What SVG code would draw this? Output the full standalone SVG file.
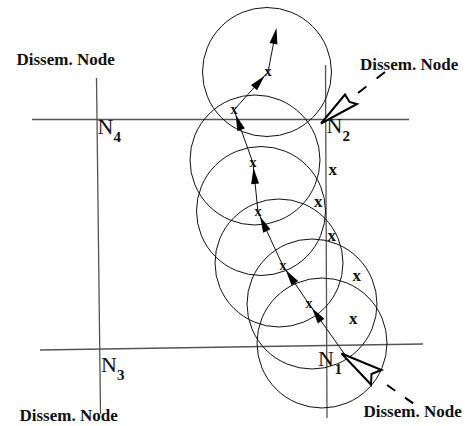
<svg xmlns="http://www.w3.org/2000/svg" xmlns:xlink="http://www.w3.org/1999/xlink" width="465" height="426" viewBox="0 0 465 426">
<style>
.grid{stroke:#555;stroke-width:1.3;fill:none}
.circ{stroke:#111;stroke-width:1;fill:none}
.path{stroke:#111;stroke-width:1;fill:none}
.ah{fill:#000;stroke:none}
.hollow{fill:#fff;stroke:#000;stroke-width:2;stroke-linejoin:miter}
.dash{stroke:#000;stroke-width:2;fill:none}
.lbl{font-family:"Liberation Serif","Times New Roman",serif;font-weight:bold;font-size:17px;fill:#111}
.nn{font-family:"Liberation Serif","Times New Roman",serif;font-size:22px;fill:#111}
.sub{font-family:"Liberation Serif","Times New Roman",serif;font-weight:bold;font-size:15px;fill:#111}
.x{font-family:"Liberation Serif","Times New Roman",serif;font-weight:bold;font-size:17px;fill:#111;text-anchor:middle}
.px{font-family:"Liberation Serif","Times New Roman",serif;font-weight:bold;font-size:14px;fill:#111;text-anchor:middle}
</style>
<defs>
<path id="ah" d="M0,0 L-16,-4 L-16,4 Z"/>
</defs>
<rect width="465" height="426" fill="#fff"/>
<g id="grid">
<line class="grid" x1="32" y1="119.5" x2="409" y2="119.5"/>
<line class="grid" x1="40" y1="350" x2="423" y2="344"/>
<line class="grid" x1="96.5" y1="78" x2="100.5" y2="414"/>
<line class="grid" x1="325.5" y1="65" x2="327" y2="418"/>
</g>
<g id="circles">
<circle class="circ" cx="267" cy="72" r="64.5"/>
<circle class="circ" cx="255" cy="160" r="65"/>
<circle class="circ" cx="261" cy="211" r="64.5"/>
<circle class="circ" cx="279" cy="263" r="64"/>
<circle class="circ" cx="312" cy="304" r="65"/>
<circle class="circ" cx="322" cy="343" r="65"/>
</g>
<g id="connectors">
<polyline class="path" points="348,359 309,304 283,266 258,212 253,163 234,110 268,72 275.5,33"/>
<use xlink:href="#ah" class="ah" transform="translate(311.9,308.1) rotate(-125.3)"/>
<use xlink:href="#ah" class="ah" transform="translate(285.8,270.1) rotate(-124.4)"/>
<use xlink:href="#ah" class="ah" transform="translate(260.1,216.5) rotate(-114.8)"/>
<use xlink:href="#ah" class="ah" transform="translate(253.5,168) rotate(-95.8)"/>
<use xlink:href="#ah" class="ah" transform="translate(235.7,114.7) rotate(-109.7)"/>
<use xlink:href="#ah" class="ah" transform="translate(264.7,75.7) rotate(-48.2)"/>
<use xlink:href="#ah" class="ah" transform="translate(276.5,28) rotate(-79.1)"/>
<line class="dash" x1="358" y1="93" x2="385" y2="72" stroke-dasharray="10.6 13"/>
<line class="dash" x1="387" y1="385" x2="414" y2="404" stroke-dasharray="10 12"/>
</g>
<g id="waypoints">
<text class="px" x="268" y="75.5">x</text>
<text class="px" x="234" y="113.5">x</text>
<text class="px" x="253" y="166.5">x</text>
<text class="px" x="258" y="215.5">x</text>
<text class="px" x="283" y="269.5">x</text>
<text class="px" x="309" y="307.5">x</text>
</g>
<g id="marks">
<text class="x" x="332.7" y="174.7">x</text>
<text class="x" x="318.3" y="206.7">x</text>
<text class="x" x="331.7" y="240.7">x</text>
<text class="x" x="356.7" y="280.7">x</text>
<text class="x" x="353.3" y="324">x</text>
</g>
<g id="N4">
<text class="lbl" x="16.5" y="65">Dissem. Node</text>
<text class="nn" x="97.5" y="134">N</text>
<text class="sub" x="113.5" y="142">4</text>
</g>
<g id="N2">
<polygon class="hollow" points="321,123.5 345,94.5 349.5,102 357,104"/>
<text class="lbl" x="360" y="70">Dissem. Node</text>
<text class="nn" x="326.5" y="133">N</text>
<text class="sub" x="342.5" y="141">2</text>
</g>
<g id="N3">
<text class="lbl" x="19.5" y="421">Dissem. Node</text>
<text class="nn" x="101" y="372">N</text>
<text class="sub" x="117" y="380">3</text>
</g>
<g id="N1">
<polygon class="hollow" points="341.5,353.5 381.5,370 371.5,374 371,384.5"/>
<text class="lbl" x="363.5" y="416.5">Dissem. Node</text>
<text class="nn" x="318" y="366">N</text>
<text class="sub" x="334.5" y="374">1</text>
</g>
</svg>
